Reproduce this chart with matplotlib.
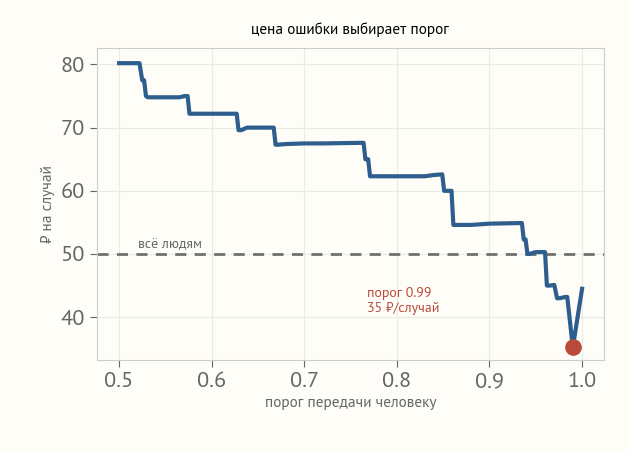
import matplotlib
matplotlib.use("Agg")
import matplotlib.pyplot as plt

thr = [0.50, 0.522, 0.525, 0.527, 0.529, 0.531, 0.565, 0.571, 0.574, 0.576, 0.627, 0.629, 0.632, 0.638, 0.667, 0.669, 0.672, 0.68, 0.70, 0.72, 0.764, 0.766, 0.769, 0.771, 0.773, 0.83, 0.84, 0.849, 0.851, 0.853, 0.859, 0.861, 0.88, 0.90, 0.935, 0.937, 0.939, 0.941, 0.943, 0.95, 0.96, 0.962, 0.965, 0.970, 0.973, 0.976, 0.982, 0.984, 0.990, 1.0]
cost = [80.2, 80.2, 77.5, 77.5, 75.0, 74.8, 74.8, 75.0, 75.0, 72.2, 72.2, 69.6, 69.6, 70.0, 70.0, 67.3, 67.3, 67.4, 67.5, 67.5, 67.6, 65.0, 65.0, 62.3, 62.3, 62.3, 62.5, 62.6, 60.0, 60.0, 60.0, 54.6, 54.6, 54.8, 54.9, 52.3, 52.3, 50.0, 50.0, 50.3, 50.3, 45.0, 45.0, 45.1, 43.0, 43.0, 43.2, 43.2, 35.2, 44.5]
best_t, best_c = 0.99, 35.2
all_human = 50.0

plt.rcParams['font.family'] = ['PT Sans', 'Noto Sans', 'DejaVu Sans']
fig = plt.figure(figsize=(6.29, 4.53), dpi=100)
fig.patch.set_facecolor('#fefdf8')
ax = fig.add_axes([0.154, 0.205, 0.806, 0.689])
ax.set_facecolor('#fefdf8')
ax.plot(thr, cost, color='#2e5e8e', lw=3, zorder=3)
ax.axhline(all_human, color='#707070', lw=2, ls=(0, (4, 3)), zorder=2)
ax.text(0.52, all_human + 0.6, 'всё людям', color='#666666', fontsize=10, va='bottom')
ax.scatter([best_t], [best_c], s=120, color='#b94a3a', zorder=4)
ax.text(0.768, 42.5, 'порог 0.99\n35 ₽/случай', color='#b94a3a', fontsize=10, va='center', linespacing=1.2)
ax.set_xlim(0.476, 1.0235)
ax.set_ylim(33.2, 82.6)
ax.set_xticks([0.5, 0.6, 0.7, 0.8, 0.9, 1.0])
ax.set_yticks([40, 50, 60, 70, 80])
ax.grid(color='#ebebe6', lw=0.8)
ax.tick_params(labelsize=16, colors='#666666', labelcolor='#666666', length=5)
for s in ax.spines.values():
    s.set_color('#cccccc')
ax.set_xlabel('порог передачи человеку', color='#666666', fontsize=11)
ax.set_ylabel('₽ на случай', color='#666666', fontsize=11)
ax.set_title('цена ошибки выбирает порог', fontsize=11, pad=10)
fig.savefig('out.png', dpi=100, facecolor=fig.get_facecolor())
